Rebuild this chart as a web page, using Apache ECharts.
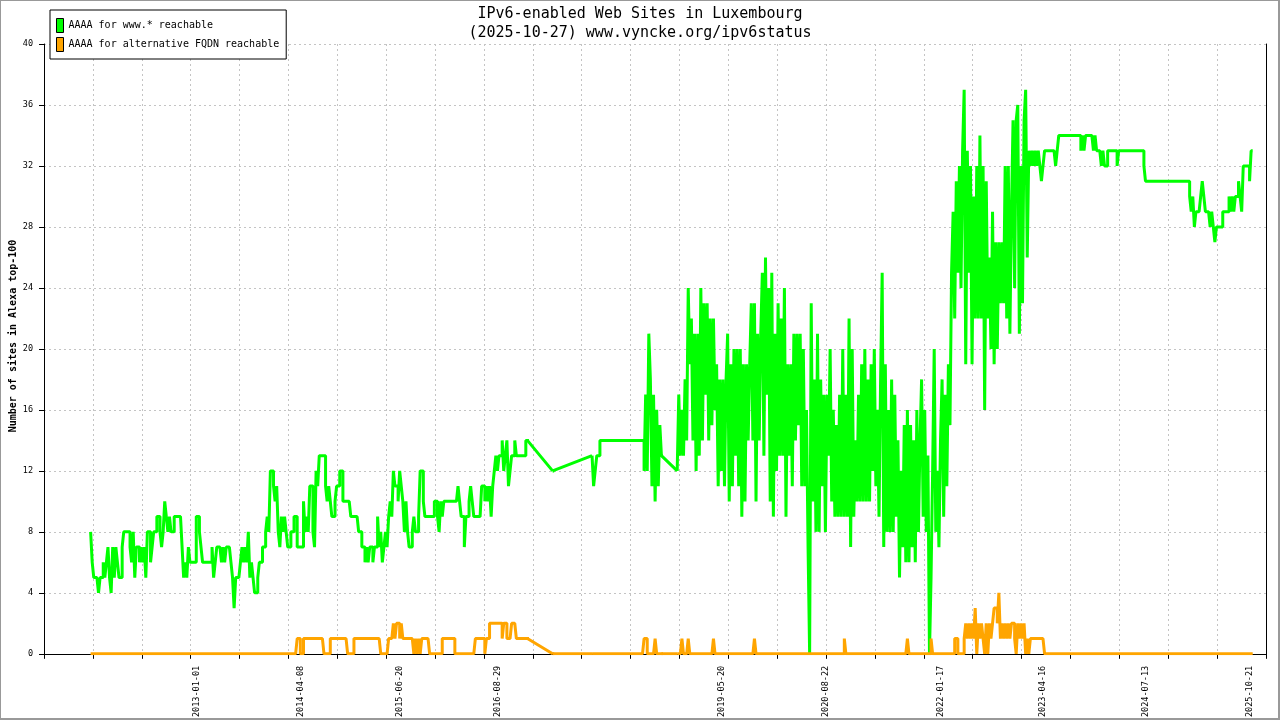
<!DOCTYPE html>
<html>
<head>
<meta charset="utf-8">
<script src="https://cdn.jsdelivr.net/npm/echarts@6/dist/echarts.min.js"></script>
<style>
html,body{margin:0;padding:0;background:#fff;}
#chart{width:1280px;height:720px;}
</style>
</head>
<body>
<div id="chart"></div>
<script>
// ---- data (weekly samples) ----
const titleLines = ['IPv6-enabled Web Sites in Luxembourg', '(2025-10-27) www.vyncke.org/ipv6status'];
const seriesNames = ['AAAA for www.* reachable', 'AAAA for alternative FQDN reachable'];
const yAxisName = 'Number of sites in Alexa top-100';
const axisStartDate = '2011-02-22';
const sampleStartDate = '2011-09-17';
const sampleStepDays = 7;
const xTickIntervalDays = 217;
const xTickCount = 25;
const xLabelDates = ['2013-01-01','2014-04-08','2015-06-20','2016-08-29','2019-05-20','2020-08-22','2022-01-17','2023-04-16','2024-07-13','2025-10-21'];
const yMin = 0, yMax = 40, yStep = 4;

const wwwReachable = [
8,6,5,5,5,4,5,5,6,5,
6,7,5,4,7,5,7,6,5,5,
7,8,8,8,8,7,6,8,5,7,
7,6,7,6,7,5,8,8,6,7,
8,8,9,9,8,7,8,10,9,8,
9,8,8,9,9,9,9,9,7,5,
6,5,7,6,6,6,6,9,9,8,
7,6,6,6,6,6,6,7,5,6,
7,7,7,6,7,6,7,7,7,6,
5,3,5,5,5,6,7,6,7,6,
8,5,6,5,4,4,5,6,6,7,
7,8,9,8,12,12,11,10,11,8,
7,9,8,9,8,7,7,8,8,9,
9,7,7,7,7,10,8,9,8,11,
11,8,7,12,11,13,13,13,13,11,
10,11,10,9,9,10,11,11,12,12,
10,10,10,10,10,9,9,9,9,9,
8,8,7,7,6,7,6,7,7,6,
7,7,9,7,8,6,7,8,7,9,
10,9,12,11,11,10,12,11,10,8,
10,8,7,7,8,9,8,8,9,12,
12,10,9,9,9,9,9,9,10,10,
9,8,10,9,10,10,10,10,10,10,
10,10,10,11,10,9,9,7,9,9,
10,11,10,9,9,9,9,9,11,11,
10,11,10,11,9,11,12,13,12,13,
13,14,12,13,14,11,12,13,13,14,
13,13,13,13,13,13,14,14,null,null,
null,null,null,null,null,null,null,null,null,null,
null,null,null,12,null,null,null,null,null,null,
null,null,null,null,null,null,null,null,null,null,
null,null,null,null,null,null,null,null,13,11,
12,13,13,14,14,14,14,14,14,14,
14,14,14,14,14,14,14,14,14,14,
14,14,14,14,14,14,14,14,14,14,
14,12,17,12,21,18,11,17,10,16,
11,15,13,null,null,null,null,null,null,null,
null,null,12,17,13,16,13,18,14,24,
19,22,14,21,12,21,13,24,14,23,
17,23,14,22,15,22,16,19,11,18,
12,18,11,18,21,10,19,11,20,13,
20,11,20,9,19,10,19,14,19,23,
14,23,10,21,14,21,25,13,26,17,
24,10,25,9,21,12,23,13,22,13,
24,9,19,13,19,11,21,14,21,15,
21,11,20,11,16,7,0,23,10,18,
8,21,8,18,11,17,8,17,13,20,
10,16,9,15,9,17,9,20,9,17,
9,22,7,20,9,14,10,17,10,19,
10,20,10,18,10,19,12,20,11,16,
9,18,25,7,19,8,16,8,18,8,
17,9,14,5,12,7,15,6,16,6,
15,7,14,6,16,8,14,18,9,16,
8,13,0,5,12,20,8,12,7,14,
18,9,17,11,19,15,25,29,22,31,
25,32,24,33,37,19,33,25,32,19,
30,22,32,22,34,22,32,16,31,22,
26,20,29,19,27,20,27,23,27,23,
32,22,32,21,29,35,24,35,36,21,
32,23,35,37,26,33,32,33,32,33,
32,33,32,31,32,33,33,33,33,33,
33,33,32,33,34,34,34,34,34,34,
34,34,34,34,34,34,34,34,33,34,
33,34,34,34,34,34,33,34,33,33,
33,32,33,32,32,33,33,33,33,33,
33,32,33,33,33,33,33,33,33,33,
33,33,33,33,33,33,33,33,32,31,
31,31,31,31,31,31,31,31,31,31,
31,31,31,31,31,31,31,31,31,31,
31,31,31,31,31,31,31,30,29,30,
28,29,29,29,30,31,30,29,29,29,
28,29,28,27,28,28,28,28,29,29,
29,29,30,29,30,29,30,30,31,30,
29,32,32,32,32,31,33,33
];

const altReachable = [
0,0,0,0,0,0,0,0,0,0,
0,0,0,0,0,0,0,0,0,0,
0,0,0,0,0,0,0,0,0,0,
0,0,0,0,0,0,0,0,0,0,
0,0,0,0,0,0,0,0,0,0,
0,0,0,0,0,0,0,0,0,0,
0,0,0,0,0,0,0,0,0,0,
0,0,0,0,0,0,0,0,0,0,
0,0,0,0,0,0,0,0,0,0,
0,0,0,0,0,0,0,0,0,0,
0,0,0,0,0,0,0,0,0,0,
0,0,0,0,0,0,0,0,0,0,
0,0,0,0,0,0,0,0,0,0,
0,1,1,0,0,1,1,1,1,1,
1,1,1,1,1,1,1,1,0,0,
0,0,1,1,1,1,1,1,1,1,
1,1,1,0,0,0,0,1,1,1,
1,1,1,1,1,1,1,1,1,1,
1,1,1,1,0,0,0,0,0,1,
1,1,2,1,2,2,1,2,1,1,
1,1,1,1,1,0,1,0,1,0,
1,1,1,1,1,0,0,0,0,0,
0,0,0,1,1,1,1,1,1,1,
1,0,0,0,0,0,0,0,0,0,
0,0,0,0,1,1,1,1,1,1,
0,1,1,2,2,2,2,2,2,2,
2,1,2,2,1,1,1,2,2,2,
1,1,1,1,1,1,1,1,null,null,
null,null,null,null,null,null,null,null,null,null,
null,null,null,0,null,null,null,null,null,null,
null,null,null,null,null,null,null,null,null,null,
null,null,null,null,null,null,null,null,0,0,
0,0,0,0,0,0,0,0,0,0,
0,0,0,0,0,0,0,0,0,0,
0,0,0,0,0,0,0,0,0,0,
0,1,1,0,0,0,0,0,1,0,
0,0,0,null,null,null,null,null,null,null,
null,null,0,0,0,1,0,0,0,1,
0,0,0,0,0,0,0,0,0,0,
0,0,0,0,0,1,0,0,0,0,
0,0,0,0,0,0,0,0,0,0,
0,0,0,0,0,0,0,0,0,0,
0,1,0,0,0,0,0,0,0,0,
0,0,0,0,0,0,0,0,0,0,
0,0,0,0,0,0,0,0,0,0,
0,0,0,0,0,0,0,0,0,0,
0,0,0,0,0,0,0,0,0,0,
0,0,0,0,0,0,0,0,1,0,
0,0,0,0,0,0,0,0,0,0,
0,0,0,0,0,0,0,0,0,0,
0,0,0,0,0,0,0,0,0,0,
0,0,0,0,0,0,0,0,1,0,
0,0,0,0,0,0,0,0,0,0,
0,0,0,1,0,0,0,0,0,0,
0,0,0,0,0,0,0,0,1,1,
0,0,0,0,1,2,1,2,1,2,
1,3,0,2,1,2,1,0,2,0,
2,1,2,3,3,2,4,1,2,1,
2,1,2,1,2,2,1,0,2,1,
2,1,2,0,1,0,1,1,1,1,
1,1,1,1,1,0,0,0,0,0,
0,0,0,0,0,0,0,0,0,0,
0,0,0,0,0,0,0,0,0,0,
0,0,0,0,0,0,0,0,0,0,
0,0,0,0,0,0,0,0,0,0,
0,0,0,0,0,0,0,0,0,0,
0,0,0,0,0,0,0,0,0,0,
0,0,0,0,0,0,0,0,0,0,
0,0,0,0,0,0,0,0,0,0,
0,0,0,0,0,0,0,0,0,0,
0,0,0,0,0,0,0,0,0,0,
0,0,0,0,0,0,0,0,0,0,
0,0,0,0,0,0,0,0,0,0,
0,0,0,0,0,0,0,0
];

// ---- helpers ----
const DAY = 86400000;
const origin = Date.parse(axisStartDate + 'T00:00:00Z');
const toDay = s => Math.round((Date.parse(s + 'T00:00:00Z') - origin) / DAY);
const dayLabel = d => new Date(origin + d * DAY).toISOString().slice(0, 10);
const firstDay = toDay(sampleStartDate);
const xOf = i => firstDay + i * sampleStepDays;
// measured samples: null = no measurement (line break)
const toPoints = arr => arr.map((v, i) => [xOf(i), v === null ? '-' : v]);
// periods without measurements are bridged by a straight line between the neighbouring samples
const gapBridges = arr => {
  const out = [];
  let i = 0;
  while (i < arr.length) {
    if (arr[i] === null) {
      let j = i;
      while (j < arr.length && arr[j] === null) j++;
      if (i > 0 && j < arr.length) {
        out.push([xOf(i - 1), arr[i - 1]], [xOf(j), arr[j]], [xOf(j), '-']);
      }
      i = j;
    } else i++;
  }
  return out;
};

const MONO = "'DejaVu Sans Mono', 'Liberation Mono', monospace";
const gridLine = { color: '#c4c4c4', width: 1, type: [2, 3] };
const colors = ['#00ff00', '#ffa500'];
const values = [wwwReachable, altReachable];

const series = [];
values.forEach((arr, k) => {
  series.push({
    name: seriesNames[k], type: 'line', data: toPoints(arr), step: 'end',
    showSymbol: false, connectNulls: false, color: colors[k],
    lineStyle: { width: 3, color: colors[k] }, z: 2 + k
  });
  series.push({
    name: seriesNames[k], type: 'line', data: gapBridges(arr),
    showSymbol: false, connectNulls: false, color: colors[k],
    lineStyle: { width: 3, color: colors[k] }, z: 2 + k
  });
});

const chart = echarts.init(document.getElementById('chart'), null, { renderer: 'canvas' });
chart.setOption({
  animation: false,
  backgroundColor: '#fff',
  title: {
    text: titleLines.join('\n'),
    left: 'center', top: 5, padding: 0,
    textStyle: { fontFamily: MONO, fontSize: 15, fontWeight: 'normal', color: '#000', lineHeight: 19 }
  },
  legend: {
    orient: 'vertical', left: 50, top: 10,
    padding: [8, 7, 7, 6], itemGap: 4,
    itemWidth: 7, itemHeight: 14, icon: 'rect',
    backgroundColor: '#fff', borderColor: '#000', borderWidth: 1, borderRadius: 0,
    itemStyle: { borderColor: '#000', borderWidth: 1 },
    textStyle: { fontFamily: MONO, fontSize: 10, color: '#000' },
    data: seriesNames
  },
  grid: { left: 44, top: 44, width: 1222, height: 611, containLabel: false },
  xAxis: {
    type: 'value', min: 0, max: xTickIntervalDays * xTickCount, interval: xTickIntervalDays,
    axisLine: { show: true, onZero: false, lineStyle: { color: '#000', width: 1 } },
    axisTick: { show: true, length: 5, lineStyle: { color: '#000' } },
    axisLabel: {
      customValues: xLabelDates.map(toDay),
      formatter: v => dayLabel(v),
      rotate: 90, margin: 12,
      fontFamily: MONO, fontSize: 8.5, color: '#000'
    },
    splitLine: { show: true, lineStyle: gridLine }
  },
  yAxis: [{
    type: 'value', min: yMin, max: yMax, interval: yStep,
    axisLine: { show: true, lineStyle: { color: '#000', width: 1 } },
    axisTick: { show: true, length: 5, lineStyle: { color: '#000' } },
    axisLabel: { margin: 11, fontFamily: MONO, fontSize: 8.5, color: '#000' },
    splitLine: { show: true, lineStyle: gridLine }
  }, {
    type: 'value', min: yMin, max: yMax, interval: yStep, position: 'right',
    axisLine: { show: true, lineStyle: { color: '#000', width: 1 } },
    axisTick: { show: false }, axisLabel: { show: false }, splitLine: { show: false }
  }],
  graphic: [{
    type: 'text', x: 13, y: 336, rotation: Math.PI / 2,
    style: { text: yAxisName, font: "bold 10px 'DejaVu Sans Mono'", fill: '#000', align: 'center', verticalAlign: 'middle' }
  }, {
    type: 'rect', silent: true, z: 100,
    shape: { x: 0, y: 0, width: 1279, height: 719 },
    style: { fill: 'none', stroke: '#999', lineWidth: 2 }
  }],
  series: series
});
</script>
</body>
</html>
